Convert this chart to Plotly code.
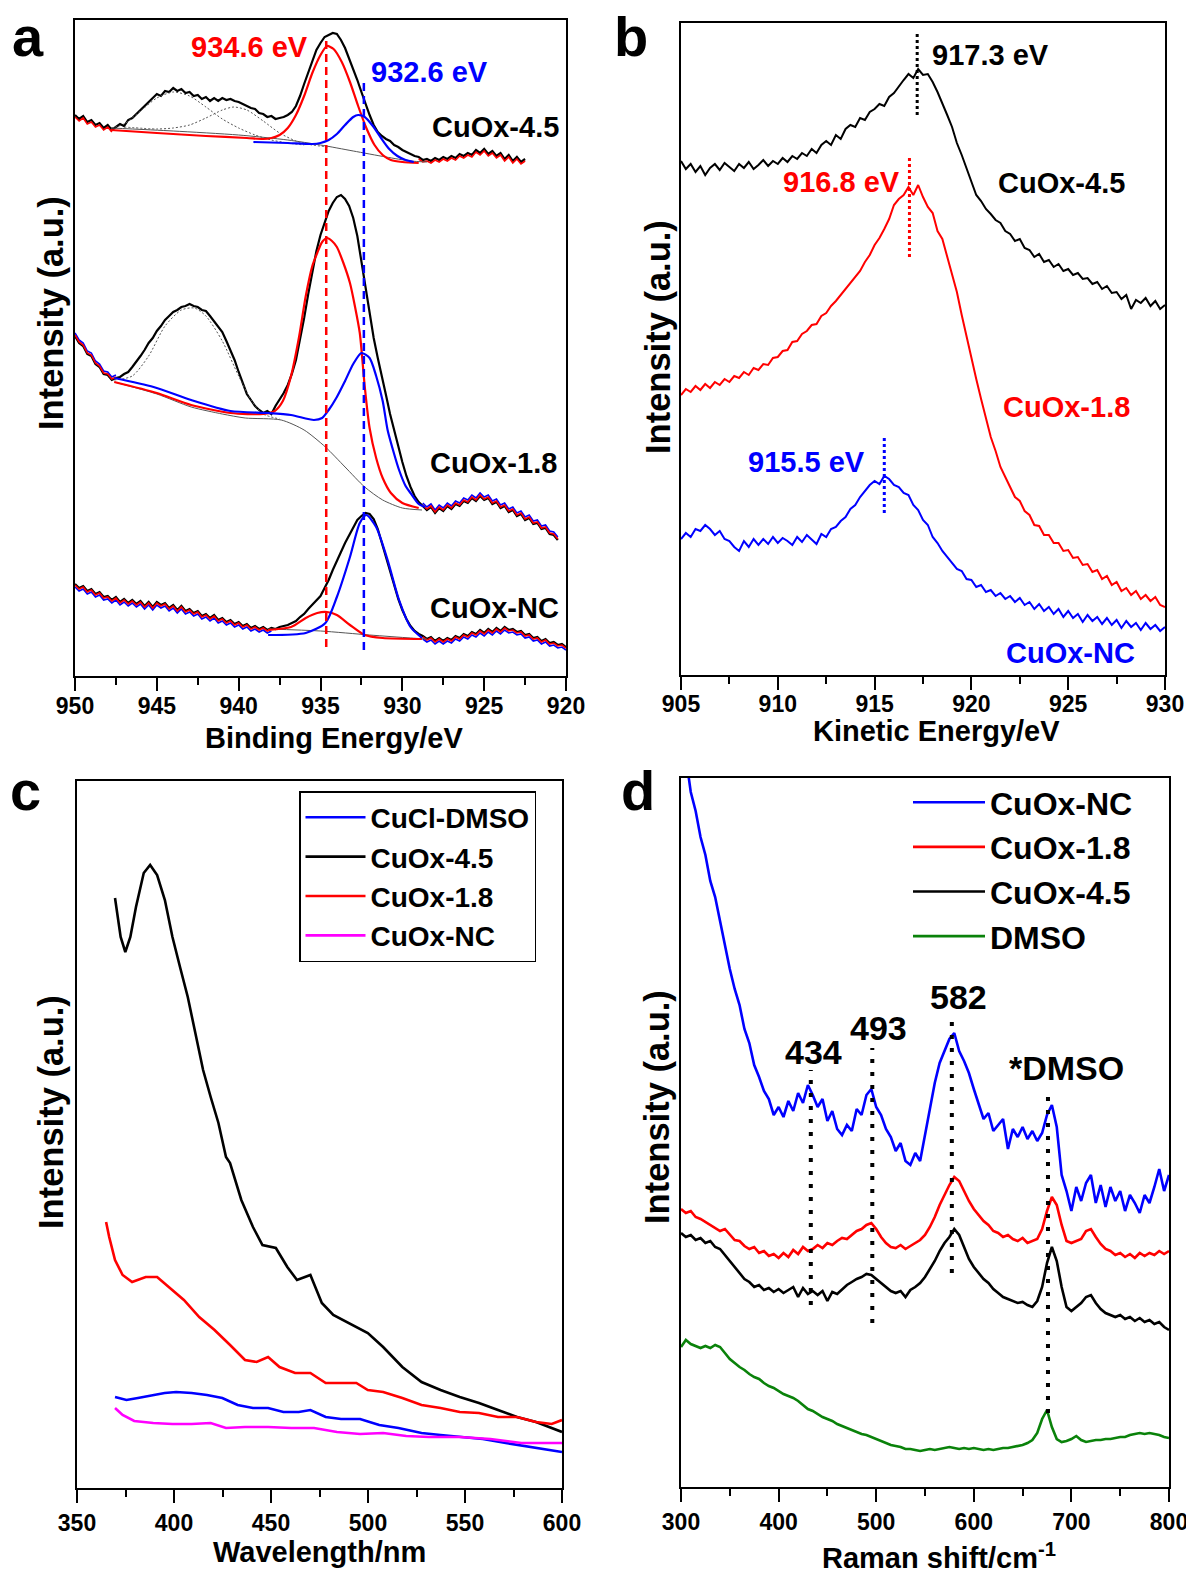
import plotly.graph_objects as go

W, H = 1186, 1575
FONT = "Liberation Sans"
BLACK, RED, BLUE, GREEN, MAGENTA, GRAY = "#000000", "#FF0000", "#0000FF", "#0A820A", "#FF00FF", "#555555"

# ---------------- (a) Cu 2p XPS (values = height above x-axis, arbitrary units) ----------------
a_start, a_step = 950.0, 0.25
a_raw_45 = [561,557,560,554,556,551,553,548,551,546,
            549,552,550,556,558,562,566,570,575,578,
            582,580,585,584,588,585,587,583,584,580,
            581,577,579,575,578,575,578,576,577,575,
            574,572,570,568,567,563,562,559,560,557,
            558,559,561,564,570,580,592,604,615,626,
            633,639,641,643,642,636,628,618,607,596,
            584,572,561,551,544,540,537,535,531,529,
            526,524,522,520,519,516,517,515,518,516,
            519,517,520,518,522,520,523,521,526,523,
            527,522,525,520,523,517,521,515,519,514,
            517]
a_raw_18 = [340,333,330,322,320,312,309,302,301,296,
            298,299,302,304,309,314,320,326,333,338,
            345,350,356,360,364,366,369,370,372,370,
            369,366,365,360,355,349,344,335,325,316,
            304,292,282,276,270,266,263,265,262,270,
            276,283,291,302,316,336,358,382,405,425,
            441,454,465,473,479,481,477,470,458,440,
            415,389,362,338,318,298,281,262,247,230,
            214,200,189,180,174,170,166,169,163,168,
            165,170,167,172,170,175,173,178,175,180,
            176,178,172,174,168,170,164,166,160,162,
            156,158,152,153,147,148,142,141,136]
a_raw_nc = [92,88,90,85,87,82,84,79,80,76,
            79,74,77,73,76,72,75,70,74,69,
            74,71,73,68,71,66,70,65,67,63,
            65,60,62,58,61,56,58,54,56,52,
            54,50,52,48,50,47,49,46,48,47,
            49,50,51,53,55,59,62,67,71,75,
            80,88,96,106,116,124,133,141,149,156,
            160,163,162,157,147,133,119,104,90,77,
            66,57,50,45,42,40,37,39,35,38,
            35,38,36,40,38,42,40,44,42,46,
            43,47,44,48,45,49,46,47,44,45,
            41,42,38,39,35,37,33,34,31,32,
            29]
a_fit_window_45 = (947.75, 929.0)
a_fit_window_18 = (947.5, 928.75)
a_fit_window_nc = (938.0, 928.75)

a45_bg_E = [947.8, 944, 940, 937, 935, 933, 931, 929.5, 928.5]
a45_bg = [548, 545, 541, 536, 531, 525, 519, 515, 514]
a45_s1_E = [947.8, 947, 946, 945, 944, 943, 942, 941, 940, 939, 938, 937, 936]
a45_s1 = [548, 552, 565, 578, 584, 580, 569, 557, 548, 541, 536, 533, 531]
a45_s2_E = [947, 945, 944, 943, 942, 941, 940.3, 939.5, 938.5, 937.5, 936.5, 935.5, 934.5]
a45_s2 = [549, 547, 548, 551, 558, 566, 569, 566, 555, 543, 535, 531, 529]
a45_red_E = [947.8, 945, 942, 939.5, 938.5, 938, 937.5, 937, 936.5, 936, 935.5, 935, 934.6, 934.2,
             933.7, 933.2, 932.7, 932.2, 931.7, 931.2, 930.7, 930, 929]
a45_red = [546, 543, 540, 538, 537, 538, 541, 548, 561, 580, 603, 621, 630, 627,
           614, 594, 570, 548, 531, 521, 516, 514, 513]
a45_blue_E = [939.1, 937, 935.5, 935, 934.5, 934, 933.5, 933, 932.7, 932.3, 931.8, 931.3, 930.8, 930.3, 929.8, 929.3]
a45_blue = [534, 533, 532, 533, 536, 542, 551, 559, 561, 559, 550, 538, 527, 520, 516, 514]

a18_bg_E = [947.6, 945, 942.9, 941, 939.6, 937.4, 936, 934.7, 933.5, 932.3, 931.2, 930, 928.8]
a18_bg = [294, 282, 269, 262, 258, 256, 246, 229, 209, 189, 176, 168, 166]
a18_sat_E = [947.6, 946.5, 945.5, 944.5, 943.5, 942.7, 942, 941, 940, 939.2, 938.5, 937.5]
a18_sat = [296, 300, 320, 350, 366, 368, 360, 335, 300, 275, 262, 257]
a18_red_E = [947.6, 945, 942.9, 940.5, 938.5, 937.8, 937.3, 936.8, 936.3, 935.9, 935.5, 935.2, 934.9, 934.6,
             934.3, 934.0, 933.6, 933.2, 932.9, 932.6, 932.3, 932.0, 931.6, 931.2, 930.7, 930.0, 929.0]
a18_red = [294, 283, 271, 263, 262, 265, 275, 300, 340, 380, 410, 423, 434, 438,
           435, 429, 413, 393, 370, 343, 290, 248, 218, 198, 183, 173, 168]
a18_blue_E = [947.6, 945.2, 942.9, 940.5, 938.2, 936.8, 935.4, 934.9, 934.5, 934.0, 933.5, 933.0, 932.5,
              932.0, 931.6, 931.2, 930.9, 930.5, 930.2, 929.8, 929.5, 929.0, 928.6]
a18_blue = [298, 289, 276, 265, 263, 261, 256, 258, 266, 279, 295, 312, 323,
            318, 300, 275, 246, 222, 206, 190, 183, 172, 169]

anc_bg_E = [938.2, 935, 932, 929.5, 928.5]
anc_bg = [47, 45, 41, 38, 37]
anc_red_E = [938.2, 936.8, 935.9, 935.2, 934.6, 934.0, 933.2, 932.3, 931.2, 928.8]
anc_red = [46, 49, 58, 63, 64, 61, 51, 41, 38, 37]
anc_blue_E = [938.2, 935.9, 934.7, 934.0, 933.2, 932.6, 932.2, 931.6, 930.9, 930.2, 929.5, 928.8]
anc_blue = [41, 43, 53, 79, 119, 153, 161, 149, 116, 76, 49, 38]

a_ref_lines = [(934.65, 29, 639, RED), (932.35, 26, 593, BLUE)]

# ---------------- (b) Auger (Kinetic energy) ----------------
b_start, b_step = 905.0, 0.25
b_45 = [514,506,511,503,509,500,507,511,505,512,
        508,504,511,507,513,506,510,515,509,514,
        511,517,513,519,516,522,519,526,522,530,
        534,530,540,536,546,550,548,557,555,563,
        566,571,569,578,582,589,595,601,597,606,
        600,601,593,583,572,560,548,532,520,506,
        492,480,474,466,461,455,452,444,441,434,
        436,427,425,418,421,413,415,408,411,404,
        406,400,402,396,397,391,393,386,389,382,
        383,376,380,366,375,372,377,369,374,366,
        370]
b_18 = [280,286,283,289,285,291,287,293,290,296,
        293,299,297,303,300,307,305,311,310,317,
        318,324,325,333,334,341,344,350,351,359,
        362,369,374,380,386,391,398,404,413,420,
        430,437,446,456,470,476,480,488,480,490,
        478,468,462,444,436,418,400,383,360,338,
        316,296,276,256,238,224,208,198,188,178,
        174,164,160,150,149,140,140,132,132,124,
        125,117,118,110,111,103,105,96,99,90,
        93,84,87,80,84,76,80,74,78,70,
        68]
b_nc = [136,142,138,146,144,150,146,140,144,136,
        134,128,124,134,128,136,130,136,131,138,
        132,137,134,130,138,133,140,135,131,141,
        138,146,148,154,158,166,170,178,184,190,
        194,191,199,196,190,188,182,180,170,165,
        155,150,138,132,124,118,112,106,104,96,
        95,88,90,83,85,79,82,76,79,73,
        77,70,73,66,71,64,68,61,66,58,
        64,57,61,53,60,54,58,51,57,50,
        55,47,54,48,52,45,52,46,50,44,
        48]
b_peak_lines = [(917.2, 560, 643, BLACK), (916.8, 418, 520, RED), (915.5, 162, 237, BLUE)]

# ---------------- (c) UV-vis ----------------
c_45_x = [369.6, 372.5, 374.9, 377.5, 380.4, 384.4, 387.7, 391.3, 395.3, 399.2, 403.1, 407.1, 411.0,
          415.0, 418.9, 422.9, 426.8, 428.9, 434.7, 440.7, 445.6, 452.5, 458.4, 463.4, 470.3, 476.2,
          482.1, 490.0, 499.9, 507.8, 517.7, 527.6, 537.4, 547.3, 557.2, 567.0, 576.8, 586.6, 600.0]
c_45_y = [590, 551, 536, 551, 581, 615, 623, 613, 588, 551, 521, 491, 455,
          418, 391, 365, 331, 325, 288, 261, 243, 240, 221, 208, 213, 185,
          173, 165, 155, 141, 121, 106, 98, 91, 85, 78, 71, 66, 56]
c_18_x = [365.0, 366.6, 369.6, 373.5, 378.4, 385.4, 391.3, 397.2, 405.1, 413.0, 420.9, 428.9, 436.6,
          442.6, 448.5, 454.4, 462.4, 470.3, 478.2, 486.0, 494.0, 499.9, 507.8, 517.7, 527.6, 537.4,
          547.3, 557.2, 567.0, 576.8, 586.6, 594.7, 600.0]
c_18_y = [266, 251, 228, 213, 206, 211, 211, 201, 188, 171, 158, 143, 128,
          126, 131, 121, 115, 115, 105, 105, 105, 98, 96, 90, 83, 80,
          76, 75, 71, 71, 66, 64, 68]
c_cucl_x = [369.6, 375.5, 381.4, 389.3, 395.2, 401.1, 409.1, 417.0, 424.9, 432.8, 440.7, 448.5, 456.4,
            464.3, 470.3, 478.2, 486.1, 495.9, 505.8, 515.7, 527.6, 537.4, 547.3, 559.2, 571.0, 582.9, 600.0]
c_cucl_y = [91, 88, 90, 93, 95, 96, 95, 93, 90, 83, 80, 80, 76,
            76, 78, 71, 69, 69, 63, 60, 55, 53, 51, 49, 45, 41, 36]
c_nc_x = [369.6, 373.5, 379.5, 389.3, 399.2, 409.1, 418.9, 426.8, 436.6, 448.5, 460.4, 472.2, 484.0,
          495.9, 507.8, 519.7, 531.5, 547.3, 563.1, 579.0, 600.0]
c_nc_y = [80, 73, 67, 65, 64, 64, 65, 60, 61, 61, 60, 60, 56,
          54, 55, 52, 51, 51, 49, 45, 45]

# ---------------- (d) Raman ----------------
d_start, d_step = 300, 5
d_nc = [790,730,695,676,650,632,606,590,566,542,
        518,498,482,458,444,422,410,396,388,372,
        380,370,386,376,394,384,402,392,380,388,
        366,376,358,352,362,356,378,372,392,398,
        380,372,358,350,336,344,326,322,334,326,
        352,380,404,424,436,448,454,436,426,414,
        398,382,368,374,356,362,368,338,358,350,
        360,348,356,346,354,372,382,360,312,296,
        276,300,286,304,312,284,302,280,300,286,
        296,276,292,284,274,292,284,300,318,296,
        312]
d_18 = [278,274,276,270,268,265,262,259,256,258,
        252,247,246,241,238,240,234,236,231,233,
        229,234,230,237,233,240,236,238,242,239,
        244,242,246,249,248,252,256,258,262,264,
        258,250,244,240,239,242,238,241,244,247,
        252,260,270,282,292,302,310,306,296,286,
        278,272,266,262,256,254,250,252,248,246,
        249,244,246,248,258,276,290,282,262,246,
        244,246,248,256,258,250,243,238,236,232,
        234,230,233,229,234,231,234,232,236,233,
        236]
d_45 = [254,250,252,247,249,244,246,240,238,232,
        226,220,214,208,205,200,202,197,199,195,
        198,194,197,200,190,199,193,196,192,196,
        186,195,193,198,202,205,208,210,213,212,
        208,204,200,196,194,196,190,197,200,204,
        210,218,226,236,244,250,258,252,240,228,
        220,214,208,204,198,194,190,188,186,184,
        185,182,180,186,200,224,240,226,200,180,
        176,180,184,190,192,184,178,174,172,170,
        172,168,170,166,169,165,167,163,165,160,
        157]
d_dmso = [140,147,143,141,139,141,139,142,140,134,
          128,124,120,117,113,110,108,104,101,99,
          96,93,91,89,86,82,78,76,73,70,
          68,66,63,61,59,57,55,53,52,50,
          48,46,44,42,41,40,38,38,37,36,
          37,38,37,38,39,40,39,38,39,38,
          39,38,37,38,37,38,39,39,40,41,
          42,44,47,54,68,77,60,48,45,46,
          48,51,47,45,46,47,47,48,48,49,
          50,50,52,53,54,53,54,53,52,50,
          49]
d_peak_lines = [(433, 182, 417), (496, 164, 439), (577.5, 214, 470), (676, 74, 395)]

# ---------------- figure ----------------
fig = go.Figure()


def grid(start, step, n):
    return [start + step * i for i in range(n)]


def line(x, y, ax, color, width, dash=None, shape="linear", name=None, legend=None):
    fig.add_trace(go.Scatter(
        x=x, y=y, mode="lines", xaxis="x" + ax, yaxis="y" + ax,
        line=dict(color=color, width=width, dash=dash, shape=shape, smoothing=0.7),
        name=name, showlegend=legend is not None, legend=legend,
        hoverinfo="skip", connectgaps=False))


def outside(E, v, window, offset):
    hi, lo = window
    xs, ys = [], []
    for e, y in zip(E, v):
        if e >= hi:
            xs.append(e); ys.append(y + offset)
    xs.append(None); ys.append(None)
    for e, y in zip(E, v):
        if e <= lo:
            xs.append(e); ys.append(y + offset)
    return xs, ys


# panel a
for E_, raw, win, overlays in [
    (grid(a_start, -a_step, len(a_raw_45)), a_raw_45, a_fit_window_45, [(RED, -2)]),
    (grid(a_start, -a_step, len(a_raw_18)), a_raw_18, a_fit_window_18, [(BLUE, 3), (RED, 1)]),
    (grid(a_start, -a_step, len(a_raw_nc)), a_raw_nc, a_fit_window_nc, [(BLUE, -3), (RED, -1)]),
]:
    line(E_, raw, "", BLACK, 2.2)
    for col, off in overlays:
        xs, ys = outside(E_, raw, win, off)
        line(xs, ys, "", col, 1.6)

for xe, ye in [(a45_bg_E, a45_bg), (a18_bg_E, a18_bg), (anc_bg_E, anc_bg)]:
    line(xe, ye, "", GRAY, 1.0, shape="spline")
for xe, ye in [(a45_s1_E, a45_s1), (a45_s2_E, a45_s2), (a18_sat_E, a18_sat)]:
    line(xe, ye, "", GRAY, 1.0, dash="2px,2px", shape="spline")
for xe, ye in [(a45_red_E, a45_red), (a18_red_E, a18_red), (anc_red_E, anc_red)]:
    line(xe, ye, "", RED, 2.2, shape="spline")
for xe, ye in [(a45_blue_E, a45_blue), (a18_blue_E, a18_blue), (anc_blue_E, anc_blue)]:
    line(xe, ye, "", BLUE, 2.2, shape="spline")
for e, y0, y1, col in a_ref_lines:
    line([e, e], [y0, y1], "", col, 2.5, dash="8px,5px")

# panel b
for vals, col in [(b_45, BLACK), (b_18, RED), (b_nc, BLUE)]:
    line(grid(b_start, b_step, len(vals)), vals, "2", col, 2.0)
for e, y0, y1, col in b_peak_lines:
    line([e, e], [y0, y1], "2", col, 3, dash="3px,3px")

# panel c
for xv, yv, col, nm in [(c_cucl_x, c_cucl_y, BLUE, "CuCl-DMSO"), (c_45_x, c_45_y, BLACK, "CuOx-4.5"),
                        (c_18_x, c_18_y, RED, "CuOx-1.8"), (c_nc_x, c_nc_y, MAGENTA, "CuOx-NC")]:
    line(xv, yv, "3", col, 2.6, name=nm, legend="legend")

# panel d
for vals, col, nm in [(d_nc, BLUE, "CuOx-NC"), (d_18, RED, "CuOx-1.8"), (d_45, BLACK, "CuOx-4.5"),
                      (d_dmso, GREEN, "DMSO")]:
    line(grid(d_start, d_step, len(vals)), vals, "4", col, 2.6, name=nm, legend="legend2")
for s, y0, y1 in d_peak_lines:
    line([s, s], [y0, y1], "4", BLACK, 4, dash="4px,9px")


def dom_x(l, r):
    return [l / W, r / W]


def dom_y(top, bottom):
    return [1 - bottom / H, 1 - top / H]


tickfont = dict(family=FONT, size=23, color=BLACK, weight="bold")


def xax(dom, rng, dtick, minor, anchor, standoff):
    return dict(domain=dom, range=rng, dtick=dtick, tick0=0, ticks="outside", ticklen=13, tickwidth=2,
                tickcolor=BLACK, showline=True, linewidth=2, linecolor=BLACK, mirror=True, showgrid=False,
                zeroline=False, tickfont=tickfont, anchor=anchor, ticklabelstandoff=standoff,
                ticklabeloverflow="allow", automargin=False,
                minor=dict(dtick=minor, ticks="outside", ticklen=7, tickwidth=2, tickcolor=BLACK, showgrid=False))


def yax(dom, rng, anchor):
    return dict(domain=dom, range=rng, showline=True, linewidth=2, linecolor=BLACK, mirror=True,
                ticks="", showticklabels=False, showgrid=False, zeroline=False, anchor=anchor, automargin=False)


fig.update_layout(
    width=W, height=H, margin=dict(l=0, r=0, t=0, b=0, autoexpand=False), autosize=False,
    paper_bgcolor="white", plot_bgcolor="white",
    xaxis=xax(dom_x(75, 566), [950, 920], 5, 2.5, "y", -5),
    yaxis=yax(dom_y(20, 676), [0, 656], "x"),
    xaxis2=xax(dom_x(681, 1165), [905, 930], 5, 2.5, "y2", -6),
    yaxis2=yax(dom_y(23, 675), [0, 652], "x2"),
    xaxis3=xax(dom_x(77, 562), [350, 600], 50, 25, "y3", 0),
    yaxis3=yax(dom_y(781, 1488), [0, 707], "x3"),
    xaxis4=xax(dom_x(681, 1169), [300, 800], 100, 50, "y4", 0),
    yaxis4=yax(dom_y(778, 1487), [0, 709], "x4"),
    legend=dict(x=299 / W, y=1 - 791 / H, xanchor="left", yanchor="top", bordercolor=BLACK, borderwidth=1.5,
                bgcolor="rgba(255,255,255,0)", font=dict(family=FONT, size=28, color=BLACK, weight="bold"),
                itemwidth=60),
    legend2=dict(x=908 / W, y=1 - 775 / H, xanchor="left", yanchor="top", borderwidth=0,
                 bgcolor="rgba(255,255,255,0)", font=dict(family=FONT, size=32, color=BLACK, weight="bold"),
                 itemwidth=72),
)


def ann(text, x, y, size, color=BLACK, angle=0):
    return dict(text="<b>" + text + "</b>", x=x / W, y=1 - y / H, xref="paper", yref="paper", showarrow=False,
                xanchor="center", yanchor="middle", textangle=angle,
                font=dict(family=FONT, size=size, color=color))


annotations = [
    ann("a", 28, 36, 56), ann("b", 631, 36, 56), ann("c", 25, 790, 56), ann("d", 638, 790, 56),
    ann("Binding Energy/eV", 334, 738, 29), ann("Kinetic Energy/eV", 936, 731, 29),
    ann("Wavelength/nm", 319, 1552, 29), ann("Raman shift/cm<sup>-1</sup>", 939, 1556, 29),
    ann("Intensity (a.u.)", 51, 313, 34.5, angle=-90), ann("Intensity (a.u.)", 658, 337, 34.5, angle=-90),
    ann("Intensity (a.u.)", 51, 1112, 34.5, angle=-90), ann("Intensity (a.u.)", 657, 1107, 34.5, angle=-90),
    ann("934.6 eV", 249, 47, 29, RED), ann("932.6 eV", 429, 72, 29, BLUE),
    ann("CuOx-4.5", 495, 127, 29), ann("CuOx-1.8", 493, 463, 29), ann("CuOx-NC", 494, 608, 29),
    ann("917.3 eV", 990, 55, 29), ann("916.8 eV", 841, 182, 29, RED), ann("CuOx-4.5", 1061, 183, 29),
    ann("CuOx-1.8", 1066, 407, 29, RED), ann("915.5 eV", 806, 462, 29, BLUE), ann("CuOx-NC", 1070, 653, 29, BLUE),
    ann("434", 813, 1052, 34), ann("493", 878, 1028, 34), ann("582", 958, 997, 34), ann("*DMSO", 1066, 1068, 34),
]
fig.update_layout(annotations=annotations)

# remove the browser's default 8px page margin so the figure sits at the window origin; hide the modebar
fig.write_html("out.html", config={"displayModeBar": False},
               post_script="document.body.style.margin='0';document.body.style.overflow='hidden';")
